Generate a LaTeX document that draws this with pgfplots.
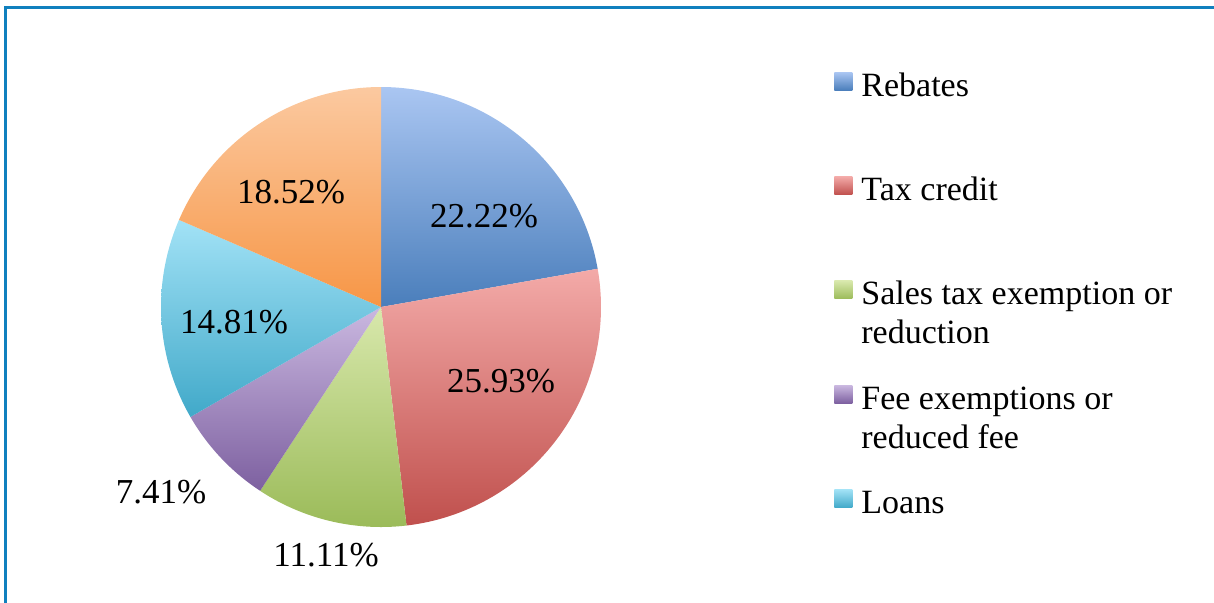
\documentclass[border=0pt]{standalone}
\usepackage{pgfplots}
\pgfplotsset{compat=1.18}
\usepackage{fontspec}
\setmainfont{Liberation Serif}

\definecolor{frameblue}{RGB}{16,128,190}
\definecolor{rebT}{RGB}{170,198,242}\definecolor{rebB}{RGB}{74,126,187}
\definecolor{taxT}{RGB}{243,170,168}\definecolor{taxB}{RGB}{192,80,77}
\definecolor{salT}{RGB}{216,232,172}\definecolor{salB}{RGB}{155,187,89}
\definecolor{feeT}{RGB}{202,184,224}\definecolor{feeB}{RGB}{125,96,160}
\definecolor{loaT}{RGB}{162,226,246}\definecolor{loaB}{RGB}{65,169,201}
\definecolor{othT}{RGB}{251,201,160}\definecolor{othB}{RGB}{247,150,70}

% pie centre and radius (axis units = pixels of the reference)
\def\cx{381}\def\cy{295}\def\rr{220}
\gdef\cum{90}
\newcommand\pieslice[3]{% #1 percent, #2 top colour, #3 bottom colour
  \pgfmathsetmacro\sa{\cum}%
  \pgfmathsetmacro\ea{\cum-#1*3.6}%
  \edef\doslice{\noexpand\addplot[draw=none, top color=#2, bottom color=#3,
      samples at={-1,0,1,...,100}, variable=\noexpand\t]
      ({ifthenelse(\noexpand\t<0,\cx,\cx+\rr*cos(\sa+(\ea-\sa)*\noexpand\t/100))},
       {ifthenelse(\noexpand\t<0,\cy,\cy+\rr*sin(\sa+(\ea-\sa)*\noexpand\t/100))});}%
  \doslice
  \global\let\cum\ea
}
\newcommand\lfont{\fontsize{17}{19.5}\selectfont}

\begin{document}
\begin{tikzpicture}
\useasboundingbox (0,0) rectangle (607pt,301pt);
\begin{axis}[
  at={(0,0)}, anchor=south west,
  width=607pt, height=301pt, scale only axis,
  xmin=0, xmax=1214, ymin=0, ymax=602,
  hide axis, clip=false,
  legend image code/.code={\path[#1] (0pt,3pt) rectangle (9pt,12pt);},
  legend style={draw=none, fill=none, inner sep=0pt, row sep=37pt,
    column sep=4.5pt, at={(0.687,0.886)}, anchor=north west,
    font=\lfont, cells={anchor=base west}, nodes={inner sep=0pt}},
]
\pieslice{22.22}{rebT}{rebB}
\addlegendentry{\parbox[t]{170pt}{\raggedright\strut Rebates}}
\pieslice{25.93}{taxT}{taxB}
\addlegendentry{\parbox[t]{170pt}{\raggedright\strut Tax credit}}
\pieslice{11.11}{salT}{salB}
\addlegendentry{\parbox[t]{170pt}{\raggedright\strut Sales tax exemption or\\reduction}}
\pieslice{7.41}{feeT}{feeB}
\addlegendentry{\parbox[t]{170pt}{\raggedright\strut Fee exemptions or\\reduced fee}}
\pieslice{14.81}{loaT}{loaB}
\addlegendentry{\parbox[t]{170pt}{\raggedright\strut Loans}}
\pieslice{18.52}{othT}{othB}

\begin{scope}[every node/.style={font=\fontsize{17.5}{20}\selectfont, inner sep=0pt}]
\node at (axis cs:484,386) {22.22\%};
\node at (axis cs:501,221) {25.93\%};
\node at (axis cs:291,410) {18.52\%};
\node at (axis cs:234,280) {14.81\%};
\node at (axis cs:161,110) {7.41\%};
\node at (axis cs:326,47) {11.11\%};
\end{scope}
\draw[frameblue, line width=1.5pt] (axis cs:5.5,-20) -- (axis cs:5.5,594.5) -- (axis cs:1230,594.5);
\end{axis}
\end{tikzpicture}
\end{document}
